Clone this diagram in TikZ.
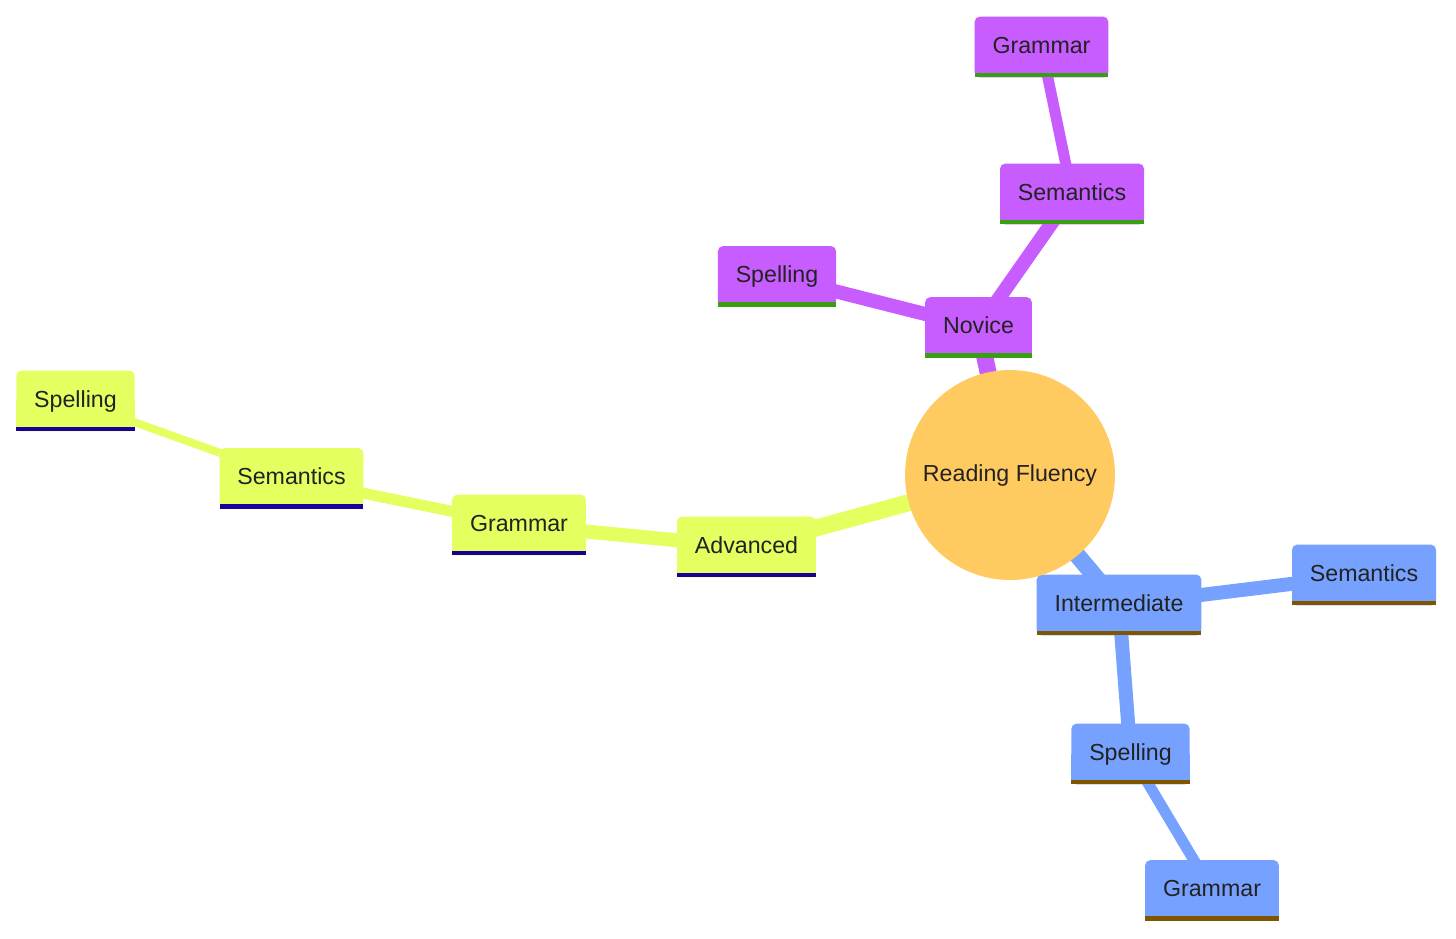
\documentclass[tikz,border=0pt]{standalone}
\usepackage{fontspec}
\setmainfont{Liberation Sans}
\usepackage{xcolor}
\usepackage{tikz}

\definecolor{rootfill}{HTML}{FFCA60}
\definecolor{yelfill}{HTML}{E3FF60}
\definecolor{yelline}{HTML}{1A0099}
\definecolor{purfill}{HTML}{C75CFF}
\definecolor{purline}{HTML}{38A010}
\definecolor{blufill}{HTML}{76A1FF}
\definecolor{bluline}{HTML}{805500}
\definecolor{txt}{HTML}{222222}

\pgfdeclarelayer{edges}
\pgfdeclarelayer{boxes}
\pgfsetlayers{edges,boxes,main}

\tikzset{
  topic/.style={text=txt, font=\fontsize{13.2pt}{15pt}\selectfont, inner xsep=0.35cm, inner ysep=0pt,
    minimum height=1.2cm, text height=0.72em, text depth=0pt},
  depthA/.style={line width=0.34cm},
  depthB/.style={line width=0.28cm},
  depthC/.style={line width=0.22cm},
  depthD/.style={line width=0.16cm}
}

\begin{document}
\begin{tikzpicture}[x=0.02cm, y=-0.02cm]
    \useasboundingbox (0,0) rectangle (1456,938);

    \node[circle, fill=rootfill, minimum size=4.2cm, inner sep=0pt, text=txt,
      font=\fontsize{13.2pt}{15pt}\selectfont] (root) at (1010,475) {Reading Fluency};

    % Novice branch
    \node[topic] (novice) at (978.5,327.5) {Novice};
    \node[topic] (psem) at (1072,194) {Semantics};
    \node[topic] (pgram) at (1041.5,47) {Grammar};
    \node[topic] (pspell) at (777,276.5) {Spelling};

    % Advanced branch
    \node[topic] (adv) at (746.5,547) {Advanced};
    \node[topic] (ygram) at (519,525) {Grammar};
    \node[topic] (ysem) at (291.5,478.5) {Semantics};
    \node[topic] (yspell) at (75.5,401) {Spelling};

    % Intermediate branch
    \node[topic] (inter) at (1119,605) {Intermediate};
    \node[topic] (bsem) at (1364,575) {Semantics};
    \node[topic] (bspell) at (1130.5,754) {Spelling};
    \node[topic] (bgram) at (1212,890.5) {Grammar};

    \begin{pgfonlayer}{boxes}
      \foreach \n/\c/\u in {novice/purfill/purline, psem/purfill/purline, pgram/purfill/purline,
          pspell/purfill/purline, adv/yelfill/yelline, ygram/yelfill/yelline, ysem/yelfill/yelline,
          yspell/yelfill/yelline, inter/blufill/bluline, bsem/blufill/bluline,
          bspell/blufill/bluline, bgram/blufill/bluline} {
        \fill[\c, rounded corners=0.1cm] (\n.south west) rectangle (\n.north east);
        \fill[\c] (\n.south west) rectangle (\n.east);
        \fill[\u] (\n.south west) rectangle ([yshift=0.09cm]\n.south east);
      }
    \end{pgfonlayer}

    \begin{pgfonlayer}{edges}
      \draw[purfill, depthA] (root.center) -- (novice.center);
      \draw[purfill, depthB] (novice.center) -- (psem.center);
      \draw[purfill, depthB] (novice.center) -- (pspell.center);
      \draw[purfill, depthC] (psem.center) -- (pgram.center);

      \draw[yelfill, depthA] (root.center) -- (adv.center);
      \draw[yelfill, depthB] (adv.center) -- (ygram.center);
      \draw[yelfill, depthC] (ygram.center) -- (ysem.center);
      \draw[yelfill, depthD] (ysem.center) -- (yspell.center);

      \draw[blufill, depthA] (root.center) -- (inter.center);
      \draw[blufill, depthB] (inter.center) -- (bsem.center);
      \draw[blufill, depthB] (inter.center) -- (bspell.center);
      \draw[blufill, depthC] (bspell.center) -- (bgram.center);
    \end{pgfonlayer}
  \end{tikzpicture}
\end{document}
